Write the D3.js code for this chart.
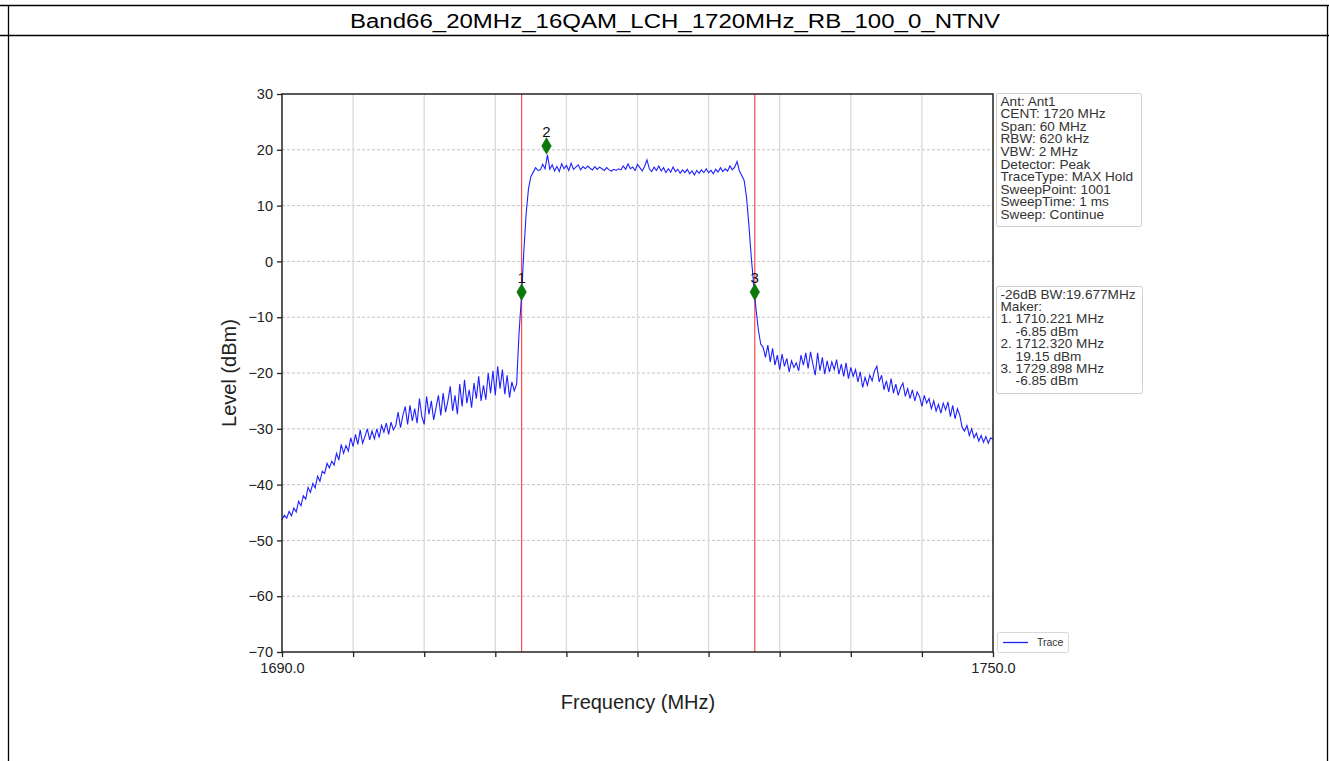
<!DOCTYPE html>
<html><head><meta charset="utf-8">
<script src="https://cdn.jsdelivr.net/npm/d3@7"></script>
<style>
html,body{margin:0;padding:0;background:#fff;}
svg{display:block;font-family:"Liberation Sans",Arial,sans-serif;}
</style></head>
<body>
<svg id="chart" width="1329" height="761"></svg>
<script>
// ---------- data ----------
const chartTitle = "Band66_20MHz_16QAM_LCH_1720MHz_RB_100_0_NTNV";
const freqStart = 1690, freqStep = 0.2;
const traceLevels = [
-46.3,-45.5,-46.0,-44.8,-45.6,-44.2,-44.9,-43.0,-43.8,-42.0,
-42.6,-40.5,-41.4,-39.8,-40.6,-38.5,-39.4,-37.6,-38.0,-36.2,
-37.0,-35.8,-36.5,-34.4,-35.6,-32.8,-34.4,-33.0,-34.0,-31.6,
-33.2,-31.0,-32.8,-30.2,-32.6,-31.4,-30.0,-32.0,-30.4,-31.8,
-30.0,-31.6,-29.4,-30.6,-29.0,-31.0,-28.8,-30.2,-29.4,-27.0,
-29.8,-27.6,-26.0,-29.2,-25.8,-28.6,-26.4,-29.0,-24.6,-27.8,
-29.2,-24.2,-27.4,-25.0,-28.4,-26.2,-24.0,-27.6,-23.6,-27.0,
-25.0,-22.4,-26.8,-24.0,-27.4,-22.0,-26.0,-21.2,-25.4,-23.0,
-26.2,-21.8,-24.6,-20.6,-25.0,-22.2,-24.8,-20.0,-23.6,-19.6,
-24.0,-18.8,-22.8,-19.4,-23.8,-20.4,-24.4,-21.6,-23.2,-22.0,
-13.0,-6.5,1.5,8.5,13.0,15.2,16.0,16.8,16.3,16.4,
17.4,16.6,19.1,16.5,17.3,16.2,17.0,16.1,17.5,16.6,
17.2,16.3,17.6,16.5,16.9,17.3,16.4,17.0,16.6,17.1,
16.7,16.4,17.0,16.5,16.9,16.6,16.3,16.8,16.4,16.2,
16.5,16.3,16.6,16.4,17.1,16.5,17.5,16.6,16.9,16.3,
17.4,16.8,16.2,17.0,18.2,16.6,16.1,16.9,16.3,17.1,
16.2,16.8,15.9,16.6,16.0,16.9,16.1,16.5,15.8,16.4,
15.9,16.5,15.7,16.2,15.5,16.3,15.8,16.4,15.9,16.6,
15.9,16.3,15.7,16.5,16.0,16.8,16.1,16.6,16.2,17.1,
16.4,16.9,17.9,16.2,15.4,14.5,11.5,6.5,0.8,-4.0,
-8.5,-12.3,-14.8,-15.4,-17.2,-15.0,-18.0,-15.6,-18.6,-16.8,
-19.4,-16.6,-18.8,-17.4,-19.8,-17.8,-19.0,-18.2,-19.6,-16.8,
-18.6,-16.4,-19.2,-16.2,-18.4,-20.4,-16.4,-19.6,-17.2,-20.2,
-17.8,-19.8,-18.0,-19.4,-17.6,-20.2,-18.4,-20.6,-18.2,-21.0,
-19.0,-20.6,-19.4,-21.6,-19.8,-22.6,-20.8,-22.2,-20.4,-21.4,
-19.6,-18.8,-21.6,-20.4,-23.0,-21.4,-23.4,-21.0,-23.6,-22.0,
-24.0,-22.6,-21.8,-24.2,-22.8,-24.6,-23.0,-25.0,-23.4,-24.2,
-26.0,-24.0,-25.4,-24.6,-26.4,-25.0,-26.8,-25.6,-27.2,-25.4,
-26.6,-25.2,-27.8,-25.8,-28.2,-26.4,-27.6,-29.8,-30.4,-29.4,
-31.2,-30.0,-31.6,-30.8,-32.2,-31.2,-32.4,-31.4,-32.6,-31.6,
-31.9
];
const markerLabels = ["1","2","3"];
const markerFreqs = [1710.221, 1712.320, 1729.898];
const markerPlotLevels = [-5.5, 20.7, -5.5];
const bwLineFreqs = [1710.221, 1729.898];
const yTicks = [30,20,10,0,-10,-20,-30,-40,-50,-60,-70];
const xTicks = [1690,1696,1702,1708,1714,1720,1726,1732,1738,1744,1750];
const xLabelTicks = [1690,1750];
const infoLines = ["Ant: Ant1","CENT: 1720 MHz","Span: 60 MHz","RBW: 620 kHz","VBW: 2 MHz",
  "Detector: Peak","TraceType: MAX Hold","SweepPoint: 1001","SweepTime: 1 ms","Sweep: Continue"];
const markerLines = ["-26dB BW:19.677MHz","Maker:","1. 1710.221 MHz","    -6.85 dBm",
  "2. 1712.320 MHz","    19.15 dBm","3. 1729.898 MHz","    -6.85 dBm"];
const legendLabel = "Trace";

// ---------- drawing ----------
const svg = d3.select("#chart");
const W = 1329, H = 761;

// frame
svg.append("line").attr("x1",0).attr("x2",W).attr("y1",5.5).attr("y2",5.5).attr("stroke","#000").attr("stroke-width",1.3);
svg.append("line").attr("x1",0).attr("x2",W).attr("y1",35.5).attr("y2",35.5).attr("stroke","#000").attr("stroke-width",1.3);
svg.append("line").attr("x1",8.5).attr("x2",8.5).attr("y1",5).attr("y2",H).attr("stroke","#000").attr("stroke-width",1.3);
svg.append("line").attr("x1",1327.5).attr("x2",1327.5).attr("y1",5).attr("y2",H).attr("stroke","#000").attr("stroke-width",1.3);
svg.append("text").attr("x",675).attr("y",28).attr("text-anchor","middle").attr("font-size",20)
  .attr("textLength",650).attr("lengthAdjust","spacingAndGlyphs").attr("fill","#000").text(chartTitle);

const L = 282, R = 993, T = 94, B = 652;
const x = d3.scaleLinear().domain([1690,1750]).range([L,R]);
const y = d3.scaleLinear().domain([-70,30]).range([B,T]);

// grid
const g = svg.append("g");
g.selectAll(".hg").data(yTicks.slice(1,-1)).join("line")
  .attr("x1",L).attr("x2",R).attr("y1",d=>y(d)).attr("y2",d=>y(d))
  .attr("stroke","#c4c4c4").attr("stroke-width",1).attr("stroke-dasharray","3,2");
g.selectAll(".vg").data(xTicks.slice(1,-1)).join("line")
  .attr("x1",d=>x(d)).attr("x2",d=>x(d)).attr("y1",T).attr("y2",B)
  .attr("stroke","#dadada").attr("stroke-width",1.3);

// bandwidth lines
g.selectAll(".bw").data(bwLineFreqs).join("line")
  .attr("x1",d=>x(d)).attr("x2",d=>x(d)).attr("y1",T).attr("y2",B)
  .attr("stroke","#ff3b3b").attr("stroke-width",1.1);

// trace
const pts = traceLevels.map((v,i)=>[freqStart+i*freqStep, v]);
g.append("path").datum(pts)
  .attr("d", d3.line().x(d=>x(d[0])).y(d=>y(d[1])))
  .attr("fill","none").attr("stroke","#2020ff").attr("stroke-width",1.1);

// markers
const diamond = d3.symbol().type(d3.symbolDiamond).size(80);
markerFreqs.forEach((f,i)=>{
  g.append("path").attr("d",diamond).attr("transform",`translate(${x(f)},${y(markerPlotLevels[i])})`)
    .attr("fill","#0b7a0b").attr("stroke","#086008").attr("stroke-width",0.5);
  g.append("text").attr("x",x(f)).attr("y",y(markerPlotLevels[i])-9).attr("text-anchor","middle")
    .attr("font-size",15).attr("fill","#111").text(markerLabels[i]);
});

// axes
const yAxis = d3.axisLeft(y).tickValues(yTicks).tickSize(5).tickPadding(4).tickFormat(d=>d3.format("d")(d).replace("-","\u2212"));
const ya = svg.append("g").attr("transform",`translate(${L},0)`).call(yAxis);
ya.select(".domain").remove();
ya.selectAll("text").attr("font-size",14.5).attr("fill","#222").attr("font-family","Liberation Sans, Arial, sans-serif");
ya.selectAll("line").attr("stroke","#222").attr("stroke-width",1.3);

const xAxis = d3.axisBottom(x).tickValues(xTicks).tickSize(5).tickPadding(6)
  .tickFormat(d=>xLabelTicks.includes(d)?d3.format(".1f")(d):"");
const xa = svg.append("g").attr("transform",`translate(0,${B})`).call(xAxis);
xa.select(".domain").remove();
xa.selectAll("text").attr("font-size",14.5).attr("fill","#222").attr("font-family","Liberation Sans, Arial, sans-serif");
xa.selectAll("line").attr("stroke","#222").attr("stroke-width",1.3);

// spines
svg.append("rect").attr("x",L).attr("y",T).attr("width",R-L).attr("height",B-T)
  .attr("fill","none").attr("stroke","#222").attr("stroke-width",1.5);

// axis labels
svg.append("text").attr("transform",`translate(236,${(T+B)/2}) rotate(-90)`).attr("text-anchor","middle")
  .attr("font-size",20).attr("fill","#222").text("Level (dBm)");
svg.append("text").attr("x",638).attr("y",709).attr("text-anchor","middle")
  .attr("font-size",20).attr("fill","#222").text("Frequency (MHz)");

// info boxes
function textBox(x0,y0,w,h,lines,step){
  svg.append("rect").attr("x",x0).attr("y",y0).attr("width",w).attr("height",h).attr("rx",2)
    .attr("fill","#fff").attr("stroke","#cfcfcf").attr("stroke-width",1);
  svg.append("g").selectAll("text").data(lines).join("text")
    .attr("x",x0+4).attr("y",(d,i)=>y0+12+i*step).attr("font-size",13.6).attr("fill","#333")
    .attr("xml:space","preserve").style("white-space","pre").text(d=>d);
}
textBox(996.5,93.5,145,133,infoLines,12.6);
textBox(996.5,286.5,146,107,markerLines,12.4);

// legend
svg.append("rect").attr("x",997.5).attr("y",632.5).attr("width",71).attr("height",20).attr("rx",2)
  .attr("fill","#fff").attr("stroke","#d8d8d8");
svg.append("line").attr("x1",1003).attr("x2",1028).attr("y1",642.5).attr("y2",642.5).attr("stroke","#2020ff").attr("stroke-width",1.3);
svg.append("text").attr("x",1037).attr("y",646).attr("font-size",10.5).attr("fill","#333").text(legendLabel);
</script>
</body></html>
